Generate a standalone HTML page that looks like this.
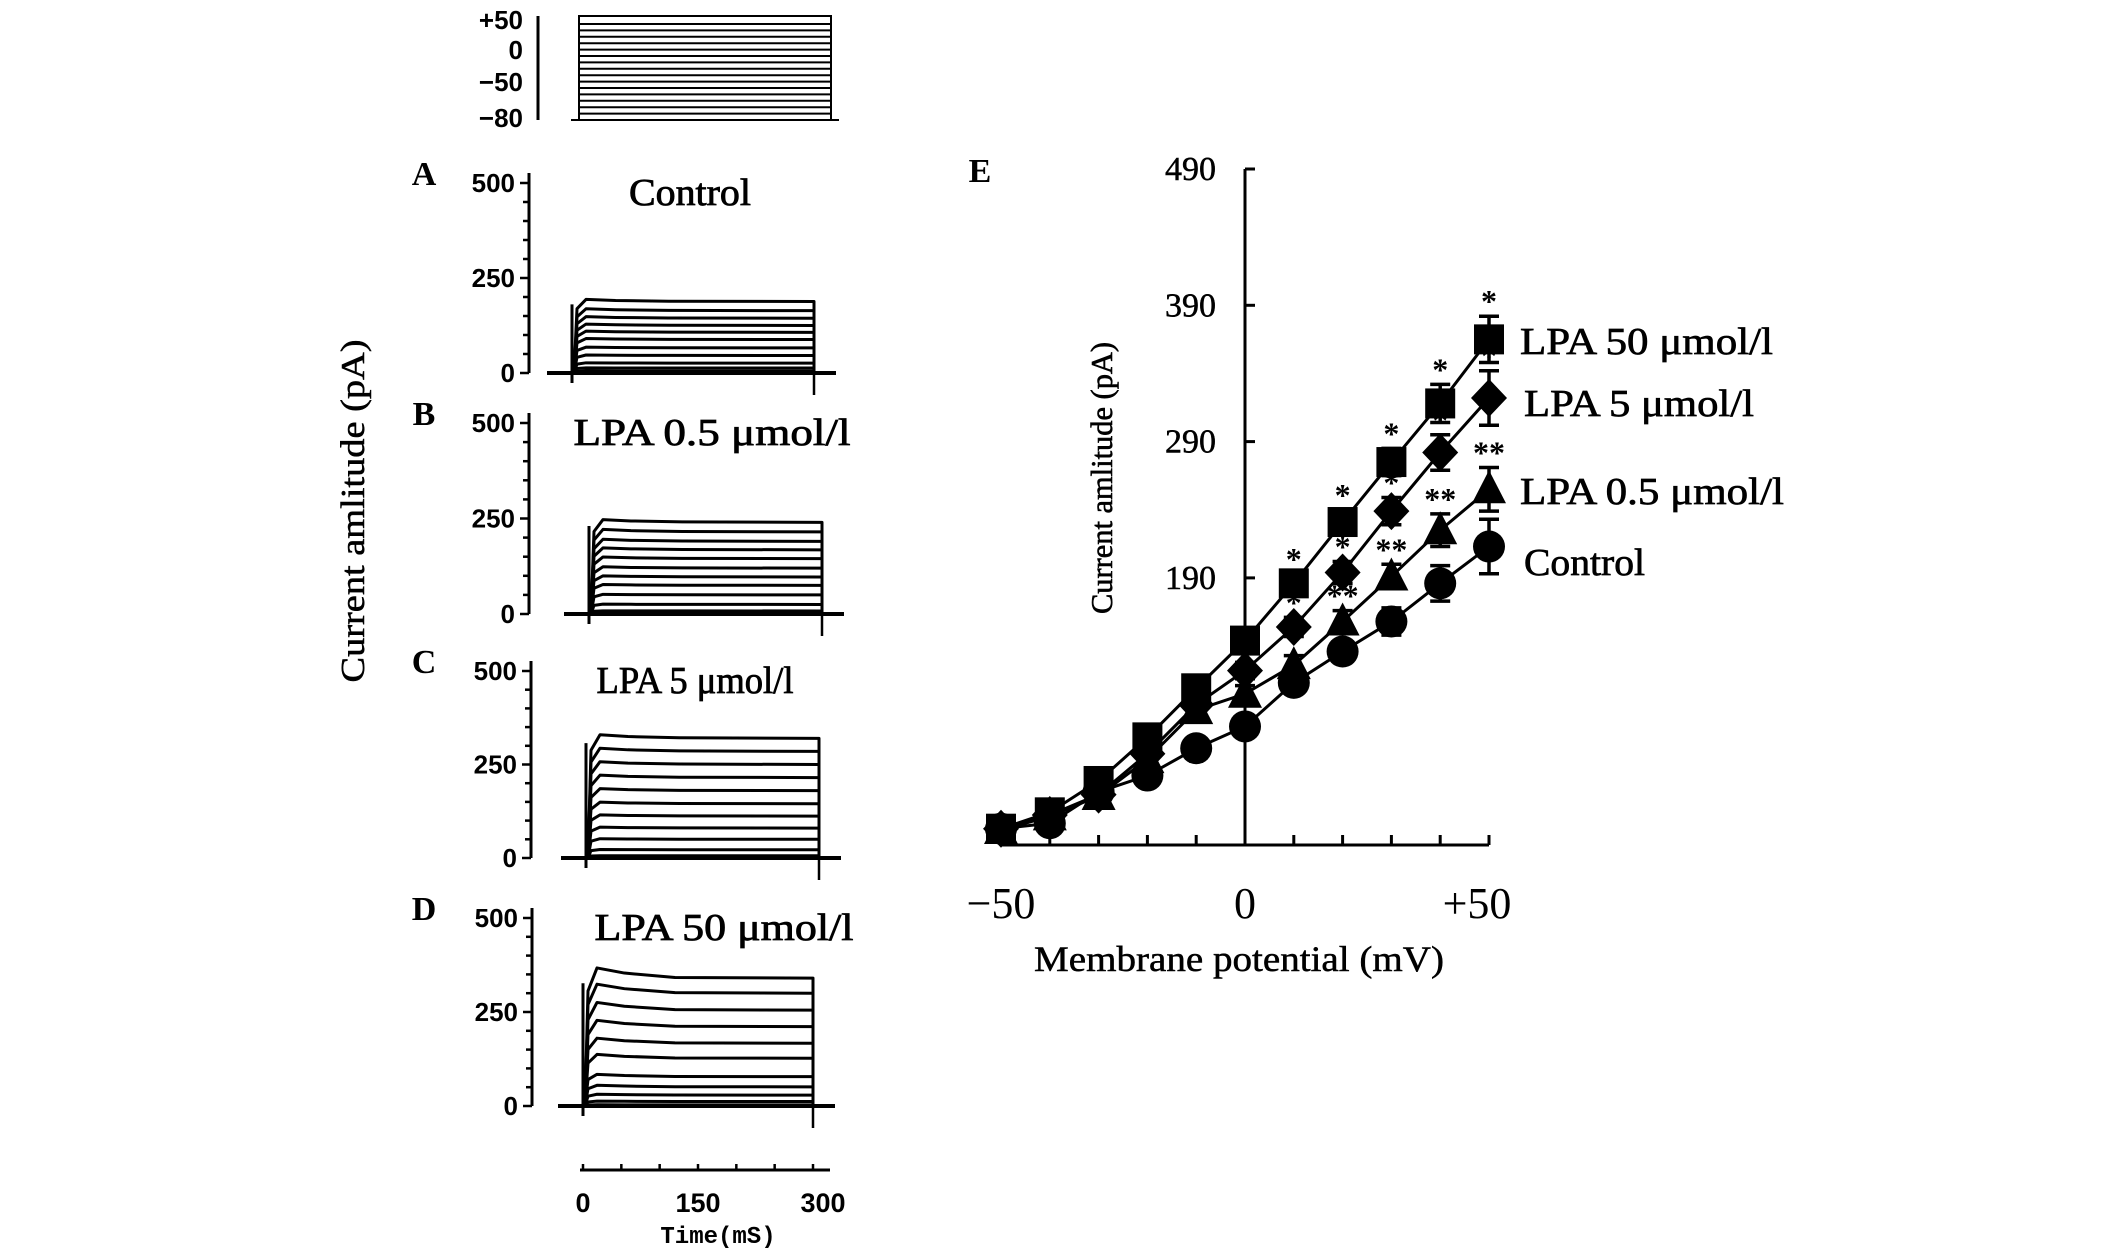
<!DOCTYPE html>
<html><head><meta charset="utf-8"><style>
html,body{margin:0;padding:0;background:#fff;}
svg{display:block;}
.ser{font-family:"Liberation Serif",serif;fill:#000;}
.san{font-family:"Liberation Sans",sans-serif;font-weight:bold;fill:#000;}
</style></head><body>
<svg id="fig" xmlns="http://www.w3.org/2000/svg" width="2126" height="1260" viewBox="0 0 2126 1260">
<rect width="2126" height="1260" fill="#fff"/>
<g id="left"></g>
<g id="right"></g>
</svg>
<script>
// ---- Data: voltage protocol steps (mV)
const protocolSteps = [-80,-72,-64,-56,-48,-40,-32,-24,-16,-8,0,8,16,24,32,40,50];
const protocolTicks = ["+50","0","\u221250","\u221280"];
// ---- Data: trace steady-state levels (pA)
const panelNames = ["A","B","C","D"];
const panelTitles = ["Control","LPA 0.5 \u03bcmol/l","LPA 5 \u03bcmol/l","LPA 50 \u03bcmol/l"];
const levelsA = [188,164,144,125,107,88,66,46,26,13,5];
const levelsB = [240,215,190,168,145,120,97,75,50,25,8];
const levelsC = [320,285,250,215,180,145,112,80,50,22,6];
const levelsD = [340,300,255,211,167,127,78,51,29,12,3];
const ampTicks = [0,250,500];
const timeTicks = [0,150,300];
// ---- Data: I-V curve
const volts = [-50,-40,-30,-20,-10,0,10,20,30,40,50];
const lpa50 = [6,18,41,73,109,144,186,231,275,318,365];
const lpa5 = [6,16,31,61,97,122,154,194,239,282,322];
const lpa05 = [5,15,30,57,93,105,126,158,191,225,255];
const control = [6,10,33,45,65,81,113,136,158,186,213];
const err50 = [3,4,5,5,6,6,7,9,10,14,17];
const err5 = [3,4,5,5,6,6,7,8,10,13,20];
const err05 = [3,4,5,5,5,6,7,8,9,12,16];
const errC = [3,4,5,5,6,6,7,8,10,13,20];
const yTicks = [190,290,390,490];
const xTickLabels = ["\u221250","0","+50"];
const xTickVals = [-50,0,50];

const NS="http://www.w3.org/2000/svg";
function mk(tag,attrs,parent){const e=document.createElementNS(NS,tag);for(const k in attrs)e.setAttribute(k,attrs[k]);parent.appendChild(e);return e;}
const L=document.getElementById('left'), R=document.getElementById('right');

// ---- Protocol
const pTop=16,pBot=120,pS=579,pE=831;
function pv(v){return pBot-(v+80)/130*(pBot-pTop);}
const protoLabelY=[29,59,91,127];
let ax=mk('line',{x1:538,x2:538,y1:pTop,y2:pBot,stroke:'#000','stroke-width':3},L);


protocolTicks.forEach((s,i)=>{
  const t=mk('text',{x:523,y:protoLabelY[i],'text-anchor':'end','font-size':26,class:'san'},L);
  t.textContent=s;
  
  
});
protocolSteps.forEach(v=>{
  const p=mk('polyline',{points:`${pS-8},${pBot} ${pS},${pBot} ${pS},${pv(v)} ${pE},${pv(v)} ${pE},${pBot} ${pE+8},${pBot}`,fill:'none',stroke:'#000','stroke-width':2},L);
  
  
});

// ---- Trace panels
const geo=[{ax:529,y0:373,y5:183,ts:572,te:814,tx:690,tw:122},{ax:529,y0:614,y5:423,ts:589,te:822,tx:712,tw:277},{ax:531,y0:858,y5:671,ts:586,te:819,tx:695,tw:197},{ax:532,y0:1106,y5:918,ts:583,te:813,tx:724,tw:259}];
const levels=[levelsA,levelsB,levelsC,levelsD];
geo.forEach((g,pi)=>{
  const gp=mk('g',{},L);
  
  
  const ya=v=>g.y0-v/500*(g.y0-g.y5);
  const lab=mk('text',{x:424,y:g.y5+2,'text-anchor':'middle','font-size':34,'font-weight':'bold',class:'ser'},gp);
  lab.textContent=panelNames[pi];
  
  
  const ttl=mk('text',{x:g.tx,y:g.y5+22,'text-anchor':'middle','font-size':38,class:'ser',stroke:'#000','stroke-width':0.8,textLength:g.tw,lengthAdjust:'spacingAndGlyphs'},gp);
  ttl.textContent=panelTitles[pi];
  
  
  const a=mk('line',{x1:g.ax,x2:g.ax,y1:g.y5-10,y2:g.y0,stroke:'#000','stroke-width':3},gp);
  
  
  for(let k=0;k<=10;k++){
    const tk=mk('line',{x1:g.ax-(k%5==0?9:6),x2:g.ax,y1:ya(k*50),y2:ya(k*50),stroke:'#000','stroke-width':2.5},gp);
    
    
  }
  ampTicks.forEach(v=>{
    const t=mk('text',{x:g.ax-14,y:ya(v)+9,'text-anchor':'end','font-size':26,class:'san'},gp);
    t.textContent=String(v);
    
    
  });
  const base=mk('polyline',{points:`${g.ts-25},${g.y0} ${g.te+22},${g.y0}`,stroke:'#000','stroke-width':4,fill:'none'},gp);
  
  
  const sp=mk('line',{x1:g.ts,x2:g.ts,y1:g.y0+10,y2:ya(levels[pi][0]*0.96),stroke:'#000','stroke-width':3},gp);
  
  
  const sp2=mk('line',{x1:g.te,x2:g.te,y1:g.y0+22,y2:ya(levels[pi][0]),stroke:'#000','stroke-width':2.5},gp);
  
  
  levels[pi].forEach(Lv=>{
    const hump=pi==3?1.08:1.03;
    const w=g.te-g.ts;
    const pts=[[g.ts+2,ya(0)],[g.ts+5,ya(Lv*0.9)],[g.ts+14,ya(Lv*hump)],[g.ts+w*0.18,ya(Lv*(1+(hump-1)*0.5))],[g.ts+w*0.4,ya(Lv*1.005)],[g.te,ya(Lv)],[g.te,ya(0)]];
    const p=mk('polyline',{points:pts.map(q=>q.join(',')).join(' '),fill:'none',stroke:'#000','stroke-width':3,'stroke-linejoin':'round'},gp);
    
    
  });
});
// time axis
const t0=583,tmsPx=230/300,tY=1170;
let tl=mk('line',{x1:t0-3,x2:t0+300*tmsPx+17,y1:tY,y2:tY,stroke:'#000','stroke-width':3},L);


for(let k=0;k<=6;k++){
  const tk=mk('line',{x1:t0+k*50*tmsPx,x2:t0+k*50*tmsPx,y1:tY-6,y2:tY,stroke:'#000','stroke-width':2.5},L);
  
  
}
timeTicks.forEach(v=>{
  const t=mk('text',{x:t0+v*tmsPx+(v==300?10:0),y:1212,'text-anchor':'middle','font-size':27,class:'san'},L);
  t.textContent=String(v);
  
  
});
let tt=mk('text',{x:718,y:1243,'text-anchor':'middle','font-size':24,'font-family':'Liberation Mono, monospace','font-weight':'bold'},L);
tt.textContent='Time(mS)';


let yt=mk('text',{x:0,y:0,'text-anchor':'middle','font-size':34,class:'ser',transform:'translate(364,511) rotate(-90)',textLength:343,lengthAdjust:'spacingAndGlyphs',stroke:'#000','stroke-width':0.5},L);
yt.textContent='Current amlitude (pA)';



// ---- I-V chart
const X0=1245,XS=4.88,yBase=845;
const xv=v=>X0+v*XS;
const yv=v=>169+(490-v)*1.363;
let E=mk('text',{x:980,y:182,'text-anchor':'middle','font-size':34,'font-weight':'bold',class:'ser'},R);
E.textContent='E';


let yax=mk('line',{x1:X0,x2:X0,y1:yv(490),y2:yBase,stroke:'#000','stroke-width':3},R);


let xax=mk('line',{x1:xv(-50),x2:xv(50),y1:yBase,y2:yBase,stroke:'#000','stroke-width':3},R);


yTicks.forEach(v=>{
  const tk=mk('line',{x1:X0,x2:X0+10,y1:yv(v),y2:yv(v),stroke:'#000','stroke-width':3},R);
  
  
  const t=mk('text',{x:1216,y:yv(v)+11,'text-anchor':'end','font-size':34,class:'ser',stroke:'#000','stroke-width':0.5},R);
  t.textContent=String(v);
  
  
});
volts.forEach(v=>{
  const tk=mk('line',{x1:xv(v),x2:xv(v),y1:yBase-10,y2:yBase,stroke:'#000','stroke-width':3},R);
  
  
});
xTickVals.forEach((v,i)=>{
  const t=mk('text',{x:xv(v)+(v>0?-12:0),y:918,'text-anchor':'middle','font-size':44,class:'ser'},R);
  t.textContent=xTickLabels[i];
  
  
});
let xt=mk('text',{x:1239,y:971,'text-anchor':'middle','font-size':36,class:'ser',textLength:410,lengthAdjust:'spacingAndGlyphs',stroke:'#000','stroke-width':0.5},R);
xt.textContent='Membrane potential (mV)';


let yt2=mk('text',{x:0,y:0,'text-anchor':'middle','font-size':31,class:'ser',transform:'translate(1112,478) rotate(-90)',textLength:272,lengthAdjust:'spacingAndGlyphs',stroke:'#000','stroke-width':0.6},R);
yt2.textContent='Current amlitude (pA)';



const series=[
 {d:control,e:errC,m:'circle',name:'control',star:null,lab:'Control',ly:575,lx:1524,tw:121},
 {d:lpa05,e:err05,m:'triangle',name:'lpa-0-5',star:'**',lab:'LPA 0.5 \u03bcmol/l',ly:504,lx:1520,tw:264},
 {d:lpa5,e:err5,m:'diamond',name:'lpa-5',star:'*',lab:'LPA 5 \u03bcmol/l',ly:416,lx:1524,tw:230},
 {d:lpa50,e:err50,m:'square',name:'lpa-50',star:'*',lab:'LPA 50 \u03bcmol/l',ly:354,lx:1520,tw:253}
];
series.forEach(s=>{
  const g=mk('g',{},R);
  
  
  const ln=mk('polyline',{points:volts.map((v,i)=>xv(v)+','+yv(s.d[i])).join(' '),fill:'none',stroke:'#000','stroke-width':3},g);
  
  
  volts.forEach((v,i)=>{
    const x=xv(v),y=yv(s.d[i]),e=s.e[i]*1.363;
    const eb=mk('path',{d:`M${x},${y-e}V${y+e}M${x-10},${y-e}H${x+10}M${x-10},${y+e}H${x+10}`,stroke:'#000','stroke-width':3.5,fill:'none'},g);
    
    
    let mkr;
    if(s.m=='circle') mkr=mk('circle',{cx:x,cy:y,r:16,fill:'#000'},g);
    else if(s.m=='square') mkr=mk('rect',{x:x-15,y:y-15,width:30,height:30,fill:'#000'},g);
    else if(s.m=='diamond') mkr=mk('polygon',{points:`${x},${y-19} ${x+18},${y} ${x},${y+19} ${x-18},${y}`,fill:'#000'},g);
    else mkr=mk('polygon',{points:`${x},${y-19} ${x+17},${y+14} ${x-17},${y+14}`,fill:'#000'},g);
    
    
    if(s.star && v>=(s.star=='**'?20:10)){
      const st=mk('text',{x:x,y:y-e-4,'text-anchor':'middle','font-size':32,'font-weight':'bold',class:'ser'},g);
      st.textContent=s.star;
      
      
    }
  });
  const lt=mk('text',{x:s.lx,y:s.ly,'font-size':38,class:'ser',stroke:'#000','stroke-width':0.7,textLength:s.tw,lengthAdjust:'spacingAndGlyphs'},g);
  lt.textContent=s.lab;
  
  
});
</script>
</body></html>
